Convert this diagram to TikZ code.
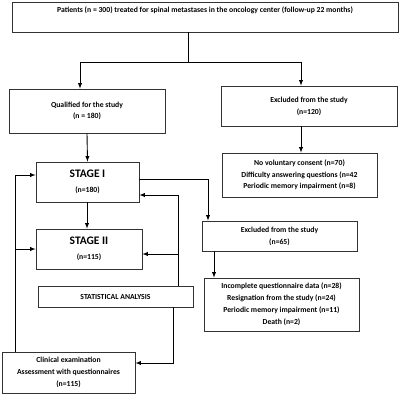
\documentclass[tikz,border=0pt]{standalone}
\usepackage{fontspec}
\setmainfont{Carlito}
\usetikzlibrary{arrows,positioning}

\tikzset{
  box/.style={draw=black!80, line width=0.8pt, align=center, inner sep=0pt,
    font=\fontsize{7.7}{12}\selectfont\bfseries},
  flow/.style={-latex, line width=0.9pt},
  line/.style={line width=0.9pt}
}

\begin{document}
\begin{tikzpicture}[x=1pt,y=-1pt]
  \useasboundingbox (0,0) rectangle (400,400);

  \node [box, minimum width=386, minimum height=30] (patients) at (205,17)
    {Patients (n = 300) treated for spinal metastases in the oncology center (follow-up 22 months)\\[3pt]\mbox{}};
  \node [box, minimum width=156, minimum height=44] (qualified) at (87,111)
    {Qualified for the study\\[-1pt](n = 180)};
  \node [box, minimum width=176, minimum height=40] (excluded) at (309,106)
    {Excluded from the study\\(n=120)};
  \node [box, minimum width=155, minimum height=44] (reasons) at (299.5,175)
    {No voluntary consent (n=70)\\[-0.5pt]Difficulty answering questions (n=42\\[-0.5pt]Periodic memory impairment (n=8)};
  \node [box, minimum width=103, minimum height=40] (stagei) at (87.5,182)
    {{\fontsize{11.5}{12}\selectfont STAGE I}\\[3pt](n=180)};
  \node [box, minimum width=106, minimum height=40] (stageii) at (89,249)
    {{\fontsize{11.5}{12}\selectfont STAGE II}\\[3pt](n=115)};
  \node [box, minimum width=155, minimum height=30] (exclb) at (279.5,236)
    {Excluded from the study\\(n=65)};
  \node [box, minimum width=155, minimum height=53] (reasonsb) at (281.5,304.5)
    {Incomplete questionnaire data (n=28)\\Resignation from the study (n=24)\\Periodic memory impairment (n=11)\\Death (n=2)};
  \node [box, minimum width=155, minimum height=21] (stat) at (115.5,296.5)
    {STATISTICAL ANALYSIS};
  \node [box, minimum width=133, minimum height=41] (clinical) at (68.5,372.5)
    {Clinical examination\\Assessment with questionnaires\\(n=115)};

  % top split
  \coordinate (split) at (188,62);
  \coordinate (right) at (301,0);
  \coordinate (mid) at (87,0);
  \draw [line] (patients.south -| split) -- (split);
  \draw [flow] (split) -| (qualified.north -| 80,0);
  \draw [flow] (split) -| (excluded.north -| right);
  \draw [flow] (excluded.south -| right) -- (reasons.north -| right);

  % main column
  \draw [flow] (qualified.south) -- (stagei.north);
  \draw [flow] (stagei.south -| mid) -- (stageii.north -| mid);

  % drop-outs
  \coordinate (side) at (208,0);
  \coordinate (col) at (214,0);
  \draw [flow] ([yshift=3]stagei.east) -| (exclb.north -| side);
  \draw [flow] (exclb.south -| col) -- (reasonsb.north -| col);

  % analysis loop
  \coordinate (up) at (178,0);
  \draw [flow] (stat.north -| up) |- ([yshift=-13]stagei.east);
  \draw [flow] ([yshift=-5]stageii.east -| up) -- ([yshift=-5]stageii.east);
  \coordinate (down) at (173,0);
  \draw [flow] (stat.south -| down) |- ([yshift=9.5]clinical.east);

  % back to stages
  \coordinate (back) at (15,0);
  \draw [flow] (clinical.north -| back) |- ([yshift=7]stagei.west);
  \draw [flow] (stageii.west -| back) -- (stageii.west);
\end{tikzpicture}
\end{document}
